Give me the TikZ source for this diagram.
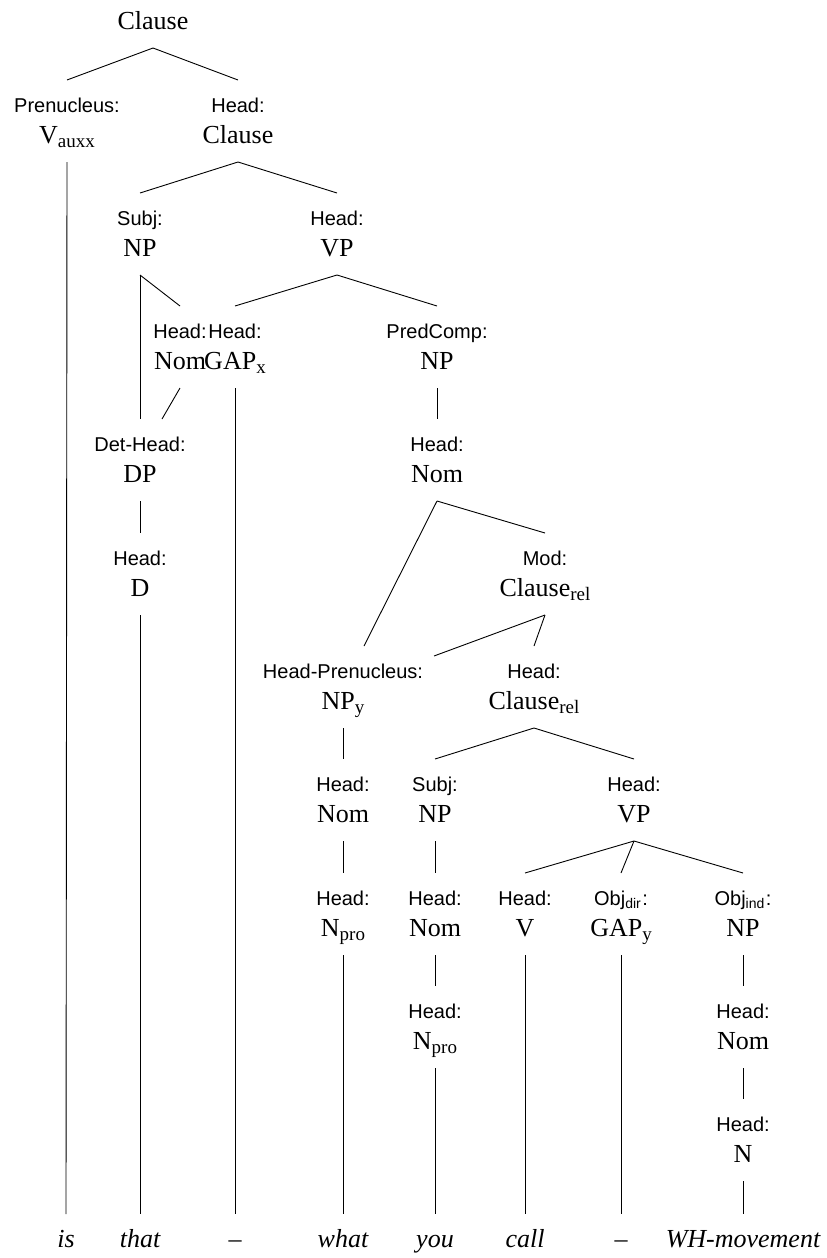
\documentclass[tikz,border=0pt]{standalone}
\usepackage{fontspec}
\setmainfont{Liberation Serif}
\setsansfont{Liberation Sans}
\usetikzlibrary{calc}
% subscripts for categories and for function labels
\newcommand\csub[1]{\raisebox{-4pt}{\fontsize{19}{19}\selectfont #1}}
\newcommand\lsub[1]{\raisebox{-3pt}{\fontsize{14}{14}\selectfont #1}\hspace{1.5pt}}
\tikzset{
  cat/.style={anchor=base, inner sep=0pt, font=\fontsize{26}{30}\selectfont},
  lab/.style={anchor=base, inner sep=0pt, font=\sffamily\fontsize{20}{24}\selectfont},
  word/.style={anchor=base, inner sep=0pt, font=\itshape\fontsize{26}{30}\selectfont},
  branch/.style={line width=0.9pt},
}
% branch from a category to the function label of a daughter
\newcommand\branchto[2]{\draw[branch] ($(#1.base)+(0,19)$) -- ($(#2L.base)+(0,-32)$);}
% branch from a category down to a word
\newcommand\leafto[2]{\draw[branch] ($(#1.base)+(0,19)$) -- ($(#2.base)+(0,-33)$);}
\begin{document}
\begin{tikzpicture}[x=1pt,y=-1pt]
\useasboundingbox (0,0) rectangle (827,1258);

% root
\node[cat] (root) at (153,29) {Clause};

% row 1
\node[lab] (prenL) at (67,112) {Prenucleus:};
\node[cat] (pren)  at (67,143) {V\csub{auxx}};
\node[lab] (cla)   at (238,112) {Head:};
\node[cat] (clb)   at (238,143) {Clause};

% row 2
\node[lab] (subjL) at (140,225) {Subj:};
\node[cat] (subj)  at (140,256) {NP};
\node[lab] (vpaL)  at (337,225) {Head:};
\node[cat] (vpa)   at (337,256) {VP};

% row 3
\node[lab] (nomaL) at (180,338) {Head:};
\node[cat] (noma)  at (180,369) {Nom};
\node[lab] (gapxL) at (235,338) {Head:};
\node[cat] (gapx)  at (235,369) {GAP\csub{x}};
\node[lab] (pcL)   at (437,338) {PredComp:};
\node[cat] (pc)    at (437,369) {NP};

% row 4
\node[lab] (dpL)   at (140,451) {Det-Head:};
\node[cat] (dp)    at (140,482) {DP};
\node[lab] (nombL) at (437,451) {Head:};
\node[cat] (nomb)  at (437,482) {Nom};

% row 5
\node[lab] (dL)    at (140,565) {Head:};
\node[cat] (d)     at (140,596) {D};
\node[lab] (modL)  at (545,565) {Mod:};
\node[cat] (mod)   at (545,596) {Clause\csub{rel}};

% row 6
\node[lab] (npyL)  at (343,678) {Head-Prenucleus:};
\node[cat] (npy)   at (343,709) {NP\csub{y}};
\node[lab] (clrL)  at (534,678) {Head:};
\node[cat] (clr)   at (534,709) {Clause\csub{rel}};

% row 7
\node[lab] (nomcL) at (343,791) {Head:};
\node[cat] (nomc)  at (343,822) {Nom};
\node[lab] (subjbL) at (435,791) {Subj:};
\node[cat] (subjb) at (435,822) {NP};
\node[lab] (vpbL)  at (634,791) {Head:};
\node[cat] (vpb)   at (634,822) {VP};

% row 8
\node[lab] (nproaL) at (343,905) {Head:};
\node[cat] (nproa) at (343,936) {N\csub{pro}};
\node[lab] (nomdL) at (435,905) {Head:};
\node[cat] (nomd)  at (435,936) {Nom};
\node[lab] (vL)    at (525,905) {Head:};
\node[cat] (v)     at (525,936) {V};
\node[lab] (gapyL) at (621,905) {Obj\lsub{dir}:};
\node[cat] (gapy)  at (621,936) {GAP\csub{y}};
\node[lab] (objL)  at (743,905) {Obj\lsub{ind}:};
\node[cat] (obj)   at (743,936) {NP};

% row 9
\node[lab] (nprobL) at (435,1018) {Head:};
\node[cat] (nprob) at (435,1049) {N\csub{pro}};
\node[lab] (nomeL) at (743,1018) {Head:};
\node[cat] (nome)  at (743,1049) {Nom};

% row 10
\node[lab] (nL)    at (743,1131) {Head:};
\node[cat] (n)     at (743,1162) {N};

% words
\node[word] (w1) at (66,1247) {is};
\node[word] (w2) at (140,1247) {that};
\node[word] (w3) at (235,1247) {--};
\node[word] (w4) at (343,1247) {what};
\node[word] (w5) at (435,1247) {you};
\node[word] (w6) at (525,1247) {call};
\node[word] (w7) at (621,1247) {--};
\node[word] (w8) at (743,1247) {WH-movement};

% branches
\branchto{root}{pren}
\draw[branch] ($(root.base)+(0,19)$) -- ($(cla.base)+(0,-32)$);
\draw[branch] ($(clb.base)+(0,19)$) -- ($(subjL.base)+(0,-32)$);
\branchto{clb}{vpa}
\branchto{subj}{dp}
\branchto{subj}{noma}
\branchto{vpa}{gapx}
\branchto{vpa}{pc}
\draw[branch] ($(noma.base)+(0,19)$) -- ($(dpL.base)+(22,-32)$);
\branchto{pc}{nomb}
\branchto{dp}{d}
\draw[branch] ($(nomb.base)+(0,19)$) -- ($(npyL.base)+(21,-32)$);
\branchto{nomb}{mod}
\draw[branch] ($(mod.base)+(0,19)$) -- ($(npyL.base)+(91,-22)$);
\branchto{mod}{clr}
\branchto{npy}{nomc}
\branchto{clr}{subjb}
\branchto{clr}{vpb}
\branchto{nomc}{nproa}
\branchto{subjb}{nomd}
\branchto{vpb}{v}
\branchto{vpb}{gapy}
\branchto{vpb}{obj}
\branchto{nomd}{nprob}
\branchto{obj}{nome}
\branchto{nome}{n}

% leaves
\leafto{pren}{w1}
\leafto{d}{w2}
\leafto{gapx}{w3}
\leafto{nproa}{w4}
\leafto{nprob}{w5}
\leafto{v}{w6}
\leafto{gapy}{w7}
\leafto{n}{w8}
\end{tikzpicture}
\end{document}
